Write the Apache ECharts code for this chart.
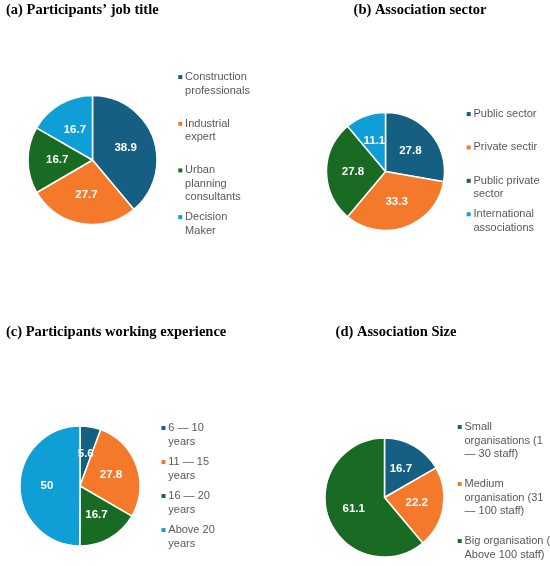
<!doctype html>
<html lang="en">
<head>
<meta charset="utf-8">
<title>Survey Pies</title>
<script src="https://cdn.jsdelivr.net/npm/echarts@6/dist/echarts.min.js"></script>
<style>
  html, body {
    width: 100%;
    height: 100%;
    margin: 0;
    background: #fff;
  }

  #chart {
    width: 550px;
    height: 566px;
  }
</style>
</head>
<body>
<div id="chart"></div>
<script>
  const colors = ['#156082', '#F4792B', '#196B24', '#0F9ED5'];

  const titles = ['(a) Participants’ job title', '(b) Association sector', '(c) Participants working experience', '(d) Association Size'];

  const jobTitles = ['Construction\nprofessionals', 'Industrial\nexpert', 'Urban\nplanning\nconsultants', 'Decision\nMaker'];
  const jobValues = [38.9, 27.7, 16.7, 16.7];

  const sectors = ['Public sector', 'Private sectir', 'Public private\nsector', 'International\nassociations'];
  const sectorValues = [27.8, 33.3, 27.8, 11.1];

  const experience = ['6 — 10\nyears', '11 — 15\nyears', '16 — 20\nyears', 'Above 20\nyears'];
  const experienceValues = [5.6, 27.8, 16.7, 50];

  const sizes = ['Small\norganisations (1\n— 30 staff)', 'Medium\norganisation (31\n— 100 staff)', 'Big organisation (\nAbove 100 staff)'];
  const sizeValues = [16.7, 22.2, 61.1];

  const LINE = 13.5;
  const sans = 'Liberation Sans, Arial, sans-serif';

  // where each panel sits on the page
  const panels = [
    {names: jobTitles, values: jobValues, center: [92.5, 160], radius: 64.5,
     titleAt: [6, 3, 'left'], legendAt: [173.3, 70.3], slot: 46.7},
    {names: sectors, values: sectorValues, center: [385.5, 171.5], radius: 59,
     titleAt: [420, 3, 'center'], legendAt: [461.7, 107.3], slot: 33.4},
    {names: experience, values: experienceValues, center: [80, 486], radius: 60,
     titleAt: [6, 325, 'left'], legendAt: [156.5, 421.3], slot: 34},
    {names: sizes, values: sizeValues, center: [384.5, 497.5], radius: 59.5,
     titleAt: [396, 325, 'center'], legendAt: [452.7, 420.3], slot: 57}
  ];

  const rich = {
    g: {width: 2.8, lineHeight: LINE},
    s: {width: 6.8, lineHeight: LINE},
    t: {color: '#595959', fontSize: 11, fontFamily: sans, lineHeight: LINE}
  };
  colors.forEach((c, i) => {
    rich['m' + i] = {width: 4, height: 4, backgroundColor: c, lineHeight: LINE};
  });

  function legendText(name, names) {
    const i = names.indexOf(name);
    return name.split('\n').map((line, k) =>
      (k === 0 ? '{m' + i + '|}{g|}' : '{s|}') + '{t|' + line + '}'
    ).join('\n');
  }

  // pad every entry but the last to the same slot height, like Excel spaces them
  function legendData(p) {
    return p.names.map((n, i) => {
      const lines = n.split('\n').length;
      const pad = i === p.names.length - 1 ? 0 : Math.max(0, p.slot - lines * LINE);
      return {name: n, textStyle: {padding: [0, 0, pad, 0]}};
    });
  }

  let chart = echarts.init(document.getElementById('chart'), null, {renderer: 'canvas'});

  let option = {
    animation: false,
    color: colors,
    title: panels.map((p, i) => ({
      text: titles[i],
      left: p.titleAt[0],
      top: p.titleAt[1],
      textAlign: p.titleAt[2],
      padding: 0,
      textStyle: {
        fontFamily: 'Liberation Serif, Times New Roman, serif',
        fontWeight: 'bold',
        fontSize: 14.5,
        color: '#000'
      }
    })),
    legend: panels.map((p) => ({
      orient: 'vertical',
      left: p.legendAt[0],
      top: p.legendAt[1],
      padding: 0,
      itemGap: 0,
      icon: 'none',
      itemWidth: 0,
      itemHeight: 0,
      data: legendData(p),
      formatter: (name) => legendText(name, p.names),
      textStyle: {color: '#595959', fontSize: 11, fontFamily: sans, lineHeight: LINE, rich: rich}
    })),
    series: panels.map((p) => ({
      type: 'pie',
      center: p.center,
      radius: p.radius,
      startAngle: 90,
      clockwise: true,
      itemStyle: {borderColor: '#fff', borderWidth: 1.5},
      label: {
        position: 'inside',
        formatter: '{c}',
        color: '#fff',
        fontWeight: 'bold',
        fontSize: 11.5,
        fontFamily: sans
      },
      labelLine: {show: false},
      emphasis: {scale: false},
      data: p.names.map((n, i) => ({name: n, value: p.values[i]}))
    }))
  };

  chart.setOption(option);

  window.addEventListener('resize', () => {
    chart.resize();
  });
</script>
</body>
</html>
